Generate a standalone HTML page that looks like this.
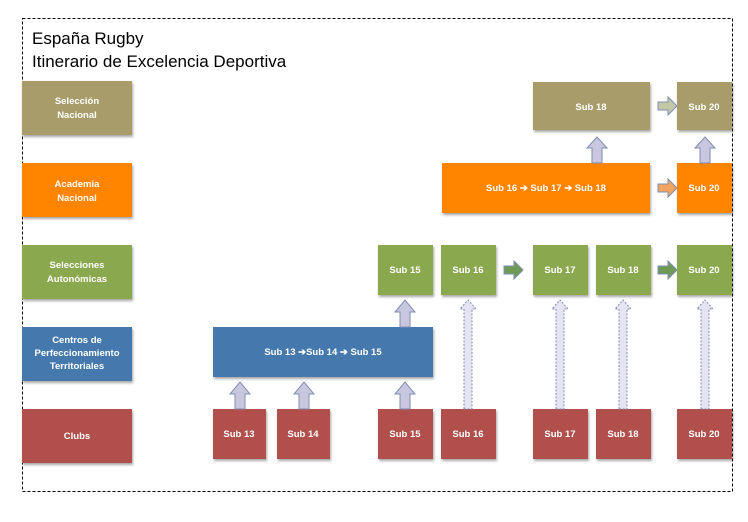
<!DOCTYPE html>
<html><head><meta charset="utf-8"><style>
body{margin:0;background:#fff;}
svg text{font-family:"Liberation Sans",sans-serif;font-weight:bold;fill:#fff;font-size:9.5px;text-anchor:middle;}
</style></head><body>
<svg width="748" height="517" viewBox="0 0 748 517" xmlns="http://www.w3.org/2000/svg">
<defs>
<filter id="sh" x="-10%" y="-10%" width="130%" height="130%"><feDropShadow dx="1" dy="2" stdDeviation="1.2" flood-color="#000" flood-opacity="0.35"/></filter>
<g id="up"><path d="M-5 14 V3 H-10 L0 -8 L10 3 H5 V14 Z" fill="#c9c6e0" stroke="#7f8db0" stroke-width="1"/></g>
</defs>
<rect x="22.5" y="18.5" width="710" height="473" fill="none" stroke="#000" stroke-width="1" stroke-dasharray="3,2"/>
<text x="32" y="44" style="font-weight:normal;fill:#000;font-size:17px;text-anchor:start">España Rugby</text>
<text x="32" y="67" style="font-weight:normal;fill:#000;font-size:17px;text-anchor:start">Itinerario de Excelencia Deportiva</text>
<g filter="url(#sh)">
<rect x="22" y="81" width="110" height="54" fill="#a89d6a"/>
<rect x="22" y="163" width="110" height="54" fill="#ff8400"/>
<rect x="22" y="245" width="110" height="54" fill="#8aa84e"/>
<rect x="22" y="327" width="110" height="54" fill="#4579ad"/>
<rect x="22" y="409" width="110" height="54" fill="#b04f4c"/>
<rect x="533" y="82" width="117" height="48" fill="#a89d6a"/>
<rect x="677" y="82" width="55" height="48" fill="#a89d6a"/>
<rect x="442" y="163" width="208" height="50" fill="#ff8400"/>
<rect x="677" y="163" width="55" height="50" fill="#ff8400"/>
<rect x="378" y="245" width="55" height="50" fill="#8aa84e"/>
<rect x="441" y="245" width="55" height="50" fill="#8aa84e"/>
<rect x="533" y="245" width="55" height="50" fill="#8aa84e"/>
<rect x="596" y="245" width="55" height="50" fill="#8aa84e"/>
<rect x="677" y="245" width="55" height="50" fill="#8aa84e"/>
<rect x="213" y="327" width="220" height="50" fill="#4579ad"/>
<rect x="213" y="409" width="53" height="50" fill="#b04f4c"/>
<rect x="277" y="409" width="53" height="50" fill="#b04f4c"/>
<rect x="378" y="409" width="55" height="50" fill="#b04f4c"/>
<rect x="441" y="409" width="55" height="50" fill="#b04f4c"/>
<rect x="533" y="409" width="55" height="50" fill="#b04f4c"/>
<rect x="596" y="409" width="55" height="50" fill="#b04f4c"/>
<rect x="677" y="409" width="55" height="50" fill="#b04f4c"/>
</g>
<text x="77" y="104">Selección</text><text x="77" y="118">Nacional</text>
<text x="77" y="187">Academia</text><text x="77" y="201">Nacional</text>
<text x="77" y="268">Selecciones</text><text x="77" y="282">Autonómicas</text>
<text x="77" y="343">Centros de</text><text x="77" y="356">Perfeccionamiento</text><text x="77" y="369">Territoriales</text>
<text x="77" y="439">Clubs</text>
<text x="591" y="110">Sub 18</text><text x="704" y="110">Sub 20</text>
<text x="546" y="191">Sub 16 ➔ Sub 17 ➔ Sub 18</text><text x="704" y="191">Sub 20</text>
<text x="405" y="273">Sub 15</text><text x="468" y="273">Sub 16</text><text x="560" y="273">Sub 17</text><text x="623" y="273">Sub 18</text><text x="704" y="273">Sub 20</text>
<text x="323" y="355">Sub 13 ➔Sub 14 ➔ Sub 15</text>
<text x="239" y="437">Sub 13</text><text x="303" y="437">Sub 14</text><text x="405" y="437">Sub 15</text><text x="468" y="437">Sub 16</text><text x="560" y="437">Sub 17</text><text x="623" y="437">Sub 18</text><text x="704" y="437">Sub 20</text>
<!-- solid up arrows -->
<path d="M592 163 V148 H587 L597 137 L607 148 H602 V163 Z" fill="#c9c6e0" stroke="#7f8db0"/>
<path d="M700 163 V148 H695 L705 137 L715 148 H710 V163 Z" fill="#c9c6e0" stroke="#7f8db0"/>
<path d="M400 327 V312 H395 L405 300 L415 312 H410 V327 Z" fill="#c9c6e0" stroke="#7f8db0"/>
<path d="M235 409 V394 H230 L240 382 L250 394 H245 V409 Z" fill="#c9c6e0" stroke="#7f8db0"/>
<path d="M299 409 V394 H294 L304 382 L314 394 H309 V409 Z" fill="#c9c6e0" stroke="#7f8db0"/>
<path d="M400 409 V394 H395 L405 382 L415 394 H410 V409 Z" fill="#c9c6e0" stroke="#7f8db0"/>
<!-- dashed long arrows -->
<g fill="#e6e4f2" stroke="#7f8db0" stroke-dasharray="2,1.5">
<path d="M464 409 V309 H460 L468 300 L476 309 H472 V409 Z"/>
<path d="M556 409 V309 H552 L560 300 L568 309 H564 V409 Z"/>
<path d="M619 409 V309 H615 L623 300 L631 309 H627 V409 Z"/>
<path d="M701 409 V309 H697 L705 300 L713 309 H709 V409 Z"/>
</g>
<!-- right arrows -->
<path d="M658 102 H668 V97 L677 106 L668 115 V110 H658 Z" fill="#c3c8a6" stroke="#7f8db0"/>
<path d="M658 184 H668 V179 L677 188 L668 197 V192 H658 Z" fill="#f3a45e" stroke="#7f8db0"/>
<path d="M504 266 H514 V261 L523 270 L514 279 V274 H504 Z" fill="#6e9a56" stroke="#7f8db0"/>
<path d="M658 266 H668 V261 L677 270 L668 279 V274 H658 Z" fill="#6e9a56" stroke="#7f8db0"/>
</svg>
</body></html>
